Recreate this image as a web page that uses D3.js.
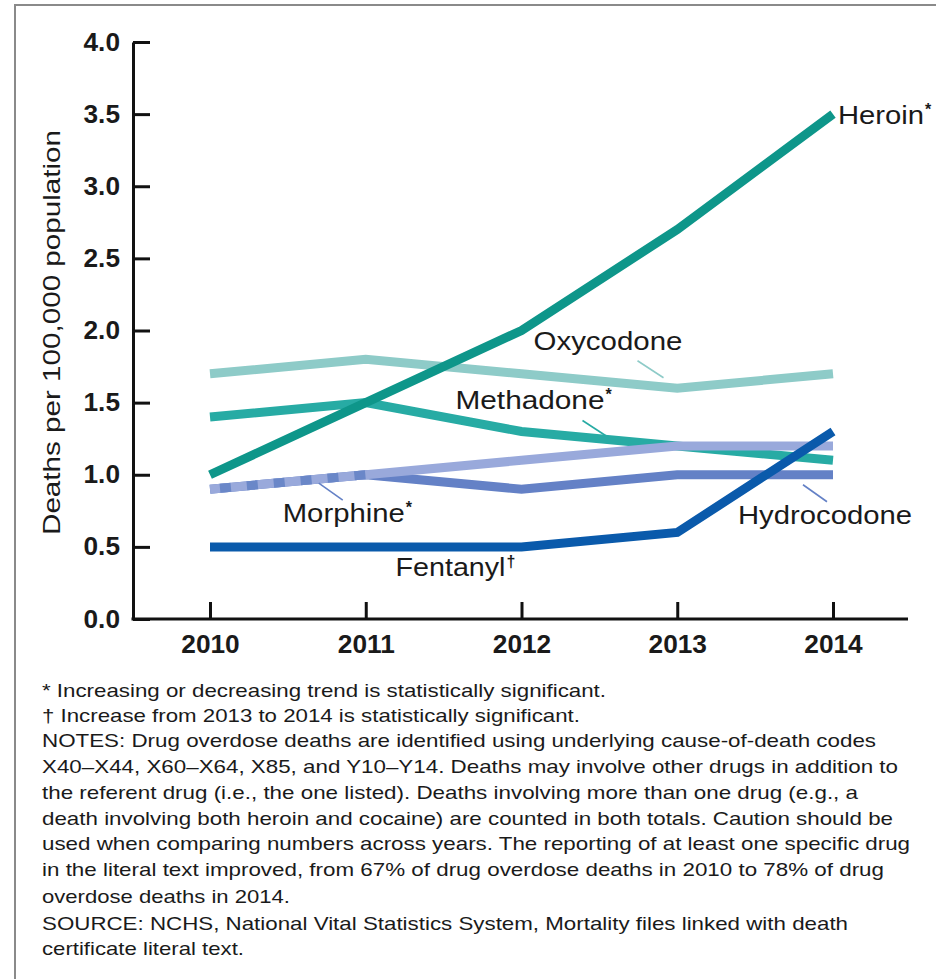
<!DOCTYPE html>
<html><head><meta charset="utf-8">
<script src="https://cdn.jsdelivr.net/npm/d3@7"></script>
<style>
html,body{margin:0;padding:0;background:#fff;}
svg{display:block;font-family:"Liberation Sans",Arial,sans-serif;}
</style></head>
<body>
<script>
const years = [2010, 2011, 2012, 2013, 2014];
const heroin      = [1.0, 1.5, 2.0, 2.7, 3.5];
const oxycodone   = [1.7, 1.8, 1.7, 1.6, 1.7];
const methadone   = [1.4, 1.5, 1.3, 1.2, 1.1];
const hydrocodone = [0.9, 1.0, 0.9, 1.0, 1.0];
const morphine    = [0.9, 1.0, 1.1, 1.2, 1.2];
const fentanyl    = [0.5, 0.5, 0.5, 0.6, 1.3];
const yTicks = [0, 0.5, 1.0, 1.5, 2.0, 2.5, 3.0, 3.5, 4.0];
const yLabel = "Deaths per 100,000 population";
const notes = [
  "* Increasing or decreasing trend is statistically significant.",
  "\u2020 Increase from 2013 to 2014 is statistically significant.",
  "NOTES: Drug overdose deaths are identified using underlying cause-of-death codes",
  "X40\u2013X44, X60\u2013X64, X85, and Y10\u2013Y14. Deaths may involve other drugs in addition to",
  "the referent drug (i.e., the one listed). Deaths involving more than one drug (e.g., a",
  "death involving both heroin and cocaine) are counted in both totals. Caution should be",
  "used when comparing numbers across years. The reporting of at least one specific drug",
  "in the literal text improved, from 67% of drug overdose deaths in 2010 to 78% of drug",
  "overdose deaths in 2014.",
  "SOURCE: NCHS, National Vital Statistics System, Mortality files linked with death",
  "certificate literal text."
];
const noteWidths = [564, 538, 834, 856, 816, 851, 868, 842, 248, 806, 202];
const noteBaselines = [697, 722, 747, 773, 799, 825, 850, 876, 903, 930, 955];

const W = 936, H = 979;
const svg = d3.select("body").append("svg").attr("width", W).attr("height", H);

function stretch(sel, k) {
  sel.each(function() {
    const w = this.getComputedTextLength();
    d3.select(this).attr("textLength", w * k).attr("lengthAdjust", "spacingAndGlyphs");
  });
}

// frame
svg.append("path").attr("d", `M15,${H}V5H${W}`).attr("fill","none").attr("stroke","#8a8a8a").attr("stroke-width",2);

const x = d3.scaleLinear().domain([2010, 2014]).range([210, 833]);
const y = d3.scaleLinear().domain([0, 4]).range([619, 42]);
const axisX0 = 133, axisXEnd = 908;

// y axis
const gy = svg.append("g").attr("transform", `translate(${axisX0},0)`)
  .call(d3.axisLeft(y).tickValues(yTicks).tickFormat(d3.format(".1f")).tickSize(-17).tickSizeOuter(0).tickPadding(13));
gy.select(".domain").attr("stroke","#111").attr("stroke-width",3);
gy.selectAll(".tick line").attr("stroke","#111").attr("stroke-width",3);
gy.selectAll(".tick text").attr("font-size",25).attr("fill","#1a1a1a").attr("font-family","Liberation Sans, Arial, sans-serif")
  .style("font-weight","bold");
stretch(gy.selectAll(".tick text"), 1.05);

// x axis
const gx = svg.append("g").attr("transform", `translate(0,${y(0)})`)
  .call(d3.axisBottom(x).tickValues(years).tickFormat(d3.format("d")).tickSize(-17).tickSizeOuter(0).tickPadding(16));
gx.select(".domain").remove();
gx.append("line").attr("x1", axisX0 - 1.5).attr("x2", axisXEnd).attr("y1",0).attr("y2",0).attr("stroke","#111").attr("stroke-width",3);
gx.selectAll(".tick line").attr("stroke","#111").attr("stroke-width",3);
gx.selectAll(".tick text").attr("font-size",25).attr("fill","#1a1a1a").attr("font-family","Liberation Sans, Arial, sans-serif")
  .style("font-weight","bold");
stretch(gx.selectAll(".tick text"), 1.05);

// y label
svg.append("text").attr("transform", `translate(60,${(y(0)+y(4))/2 + 2}) rotate(-90)`)
  .attr("text-anchor","middle").attr("font-size",24).attr("fill","#1a1a1a")
  .attr("textLength", 405).attr("lengthAdjust","spacingAndGlyphs").text(yLabel);

const line = d3.line().x((d,i) => x(years[i])).y(d => y(d));
const sw = 9;
function draw(vals, color) {
  return svg.append("path").attr("d", line(vals)).attr("fill","none")
    .attr("stroke", color).attr("stroke-width", sw).attr("stroke-linejoin","miter");
}
draw(oxycodone, "#8ecbc8");
draw(methadone, "#27aba4");
draw(hydrocodone, "#6481c6");
draw(morphine, "#99a9db");
// overlapping 2010-2011 segment of hydrocodone drawn dashed over morphine
const seg = d3.line().defined((d,i) => i <= 1).x((d,i) => x(years[i])).y(d => y(d));
svg.append("path").attr("d", seg(hydrocodone)).attr("fill","none")
  .attr("stroke","#6a87c8").attr("stroke-width",sw).attr("stroke-dasharray","11,16").attr("stroke-dashoffset",-10);
draw(heroin, "#0e968a");
draw(fentanyl, "#0a5aab");

// labels
function lab(txt, sup, lx, ly, w) {
  svg.append("text").attr("x", lx).attr("y", ly).attr("font-size", 25).attr("fill","#1a1a1a")
    .attr("textLength", w).attr("lengthAdjust","spacingAndGlyphs").text(txt);
  if (sup) svg.append("text").attr("x", lx + w + 1).attr("y", ly - 9).attr("font-size", 16)
    .attr("font-weight","bold").attr("fill","#1a1a1a").text(sup);
}
const leader = (x1,y1,x2,y2,c) => svg.append("line").attr("x1",x1).attr("y1",y1).attr("x2",x2).attr("y2",y2)
  .attr("stroke", c).attr("stroke-width",1.6);

lab("Heroin", "*", x(2014)+5, y(3.5)+10, 86);
lab("Oxycodone", null, x(2012)+12, y(1.87)+1, 149);
leader(x(2012)+116, y(1.7)-13, x(2012)+142, y(1.7)+4, "#8ecbc8");
lab("Methadone", "*", x(2012)-66, y(1.5)+6, 149);
leader(x(2012)+61, y(1.3)-11, x(2012)+87, y(1.3)+6, "#27aba4");
lab("Morphine", "*", x(2011)-83, y(0.7)+4, 122);
leader(x(2011)-47, y(0.9)-6, x(2011)-23, y(0.9)+11, "#6481c6");
lab("Hydrocodone", null, x(2014)-95, y(0.7)+6, 174);
leader(x(2014)-30, y(1.0)+10, x(2014)-6, y(1.0)+27, "#6481c6");
lab("Fentanyl", "\u2020", x(2012)-126, y(0.3)+0, 110);

// notes
notes.forEach((t,i) => {
  svg.append("text").attr("x", 42).attr("y", noteBaselines[i]).attr("font-size", 19).attr("fill","#1a1a1a")
    .attr("textLength", noteWidths[i]).attr("lengthAdjust","spacingAndGlyphs").text(t);
});
</script>
</body></html>
